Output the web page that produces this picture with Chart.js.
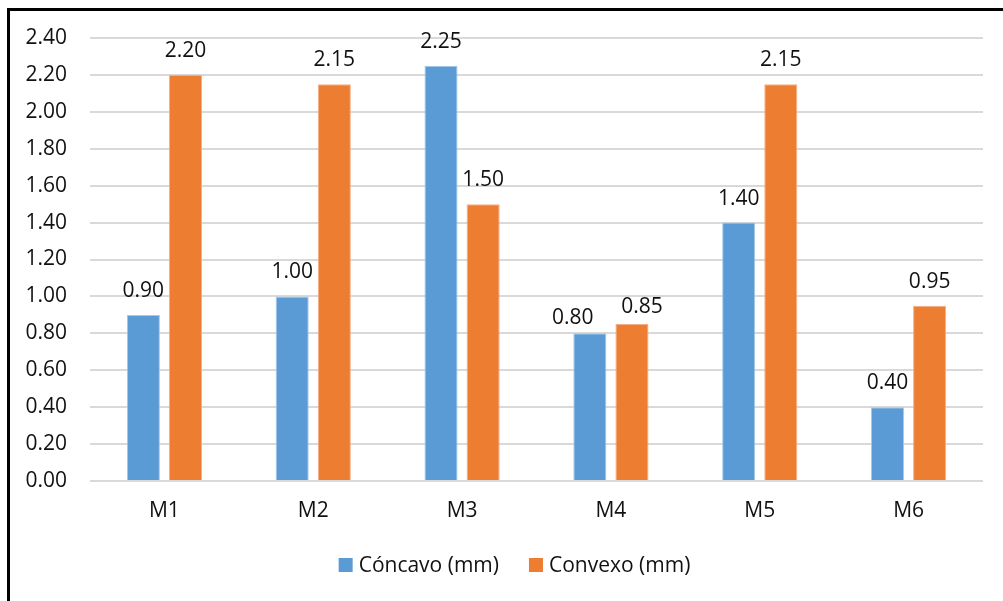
<!DOCTYPE html>
<html>
<head>
<meta charset="utf-8">
<script src="https://cdn.jsdelivr.net/npm/chart.js@4/dist/chart.umd.min.js"></script>
<style>
  html, body { margin: 0; padding: 0; background: #fff; }
  #wrap { position: relative; width: 1003px; height: 601px; overflow: hidden; }
  #frame { position: absolute; left: 7px; top: 8px; right: -10px; bottom: -10px;
           border-top: 3px solid #000; border-left: 3px solid #000; pointer-events: none; }
  canvas { position: absolute; left: 0; top: 0; }
</style>
</head>
<body>
<div id="wrap">
  <canvas id="c" width="1003" height="601"></canvas>
  <div id="frame"></div>
</div>
<script>
const categories = ['M1', 'M2', 'M3', 'M4', 'M5', 'M6'];
const concavo = [0.90, 1.00, 2.25, 0.80, 1.40, 0.40];
const convexo = [2.20, 2.15, 1.50, 0.85, 2.15, 0.95];
const seriesNames = ['Cóncavo (mm)', 'Convexo (mm)'];
const seriesColors = ['#5B9BD5', '#ED7D31'];
const seriesEdges = ['#a8c8e8', '#f4ae85'];

const FONT = '"Open Sans", "Noto Sans", sans-serif';
const TEXT = '#111';

// Value labels drawn above each bar; labels of near-equal neighbours are spread apart
const valueLabels = {
  id: 'valueLabels',
  afterDatasetsDraw(chart, args, opts) {
    const ctx = chart.ctx;
    const nudge = opts.nudge || {};
    ctx.save();
    ctx.font = '21px ' + FONT;
    ctx.fillStyle = TEXT;
    ctx.textAlign = 'center';
    ctx.textBaseline = 'alphabetic';
    chart.data.datasets.forEach((ds, i) => {
      chart.getDatasetMeta(i).data.forEach((bar, j) => {
        const n = (nudge[chart.data.labels[j]] || [])[i] || [0, 0];
        ctx.fillText(ds.data[j].toFixed(2), bar.x + n[0], bar.y - 18 + n[1]);
      });
    });
    ctx.restore();
  }
};

// Legend row under the axis: square swatch followed by the series name
const swatchLegend = {
  id: 'swatchLegend',
  afterDraw(chart) {
    const ctx = chart.ctx;
    const box = 14, textGap = 6, itemGap = 30, cy = 565;
    ctx.save();
    ctx.font = '21px ' + FONT;
    ctx.textBaseline = 'middle';
    ctx.textAlign = 'left';
    const items = chart.data.datasets.map(ds => ({ name: ds.label, color: ds.backgroundColor }));
    const widths = items.map(it => box + textGap + ctx.measureText(it.name).width);
    const total = widths.reduce((a, b) => a + b, 0) + itemGap * (items.length - 1);
    let x = chart.chartArea.left + (chart.chartArea.right - chart.chartArea.left) / 2 - total / 2 - 22;
    items.forEach((it, k) => {
      ctx.fillStyle = it.color;
      ctx.fillRect(x, cy - box / 2, box, box);
      ctx.fillStyle = TEXT;
      ctx.fillText(it.name, x + box + textGap, cy + 1);
      x += widths[k] + itemGap;
    });
    ctx.restore();
  }
};

new Chart(document.getElementById('c'), {
  type: 'bar',
  data: {
    labels: categories,
    datasets: [
      { label: seriesNames[0], data: concavo, backgroundColor: seriesColors[0],
        borderColor: seriesEdges[0], borderWidth: 1 },
      { label: seriesNames[1], data: convexo, backgroundColor: seriesColors[1],
        borderColor: seriesEdges[1], borderWidth: 1 }
    ]
  },
  options: {
    responsive: false,
    animation: false,
    layout: { padding: { left: 0, right: 20, top: 38, bottom: 56 } },
    datasets: { bar: { categoryPercentage: 0.566, barPercentage: 0.786 } },
    scales: {
      x: {
        grid: { display: false, drawTicks: false },
        border: { display: false },
        ticks: { color: TEXT, font: { family: FONT, size: 21 }, padding: 17 },
        afterFit(scale) { scale.height = 64; }
      },
      y: {
        min: 0, max: 2.4,
        grid: { color: '#d9d9d9', lineWidth: 2, drawTicks: false },
        border: { display: false },
        ticks: { stepSize: 0.2, color: TEXT, font: { family: FONT, size: 21 }, padding: 23,
                 callback: v => Number(v).toFixed(2) },
        afterFit(scale) { scale.width = 90; }
      }
    },
    plugins: {
      legend: { display: false },
      tooltip: { enabled: false },
      valueLabels: { nudge: { M4: [[-17, 9], [10, 7]] } }
    }
  },
  plugins: [valueLabels, swatchLegend]
});
</script>
</body>
</html>
